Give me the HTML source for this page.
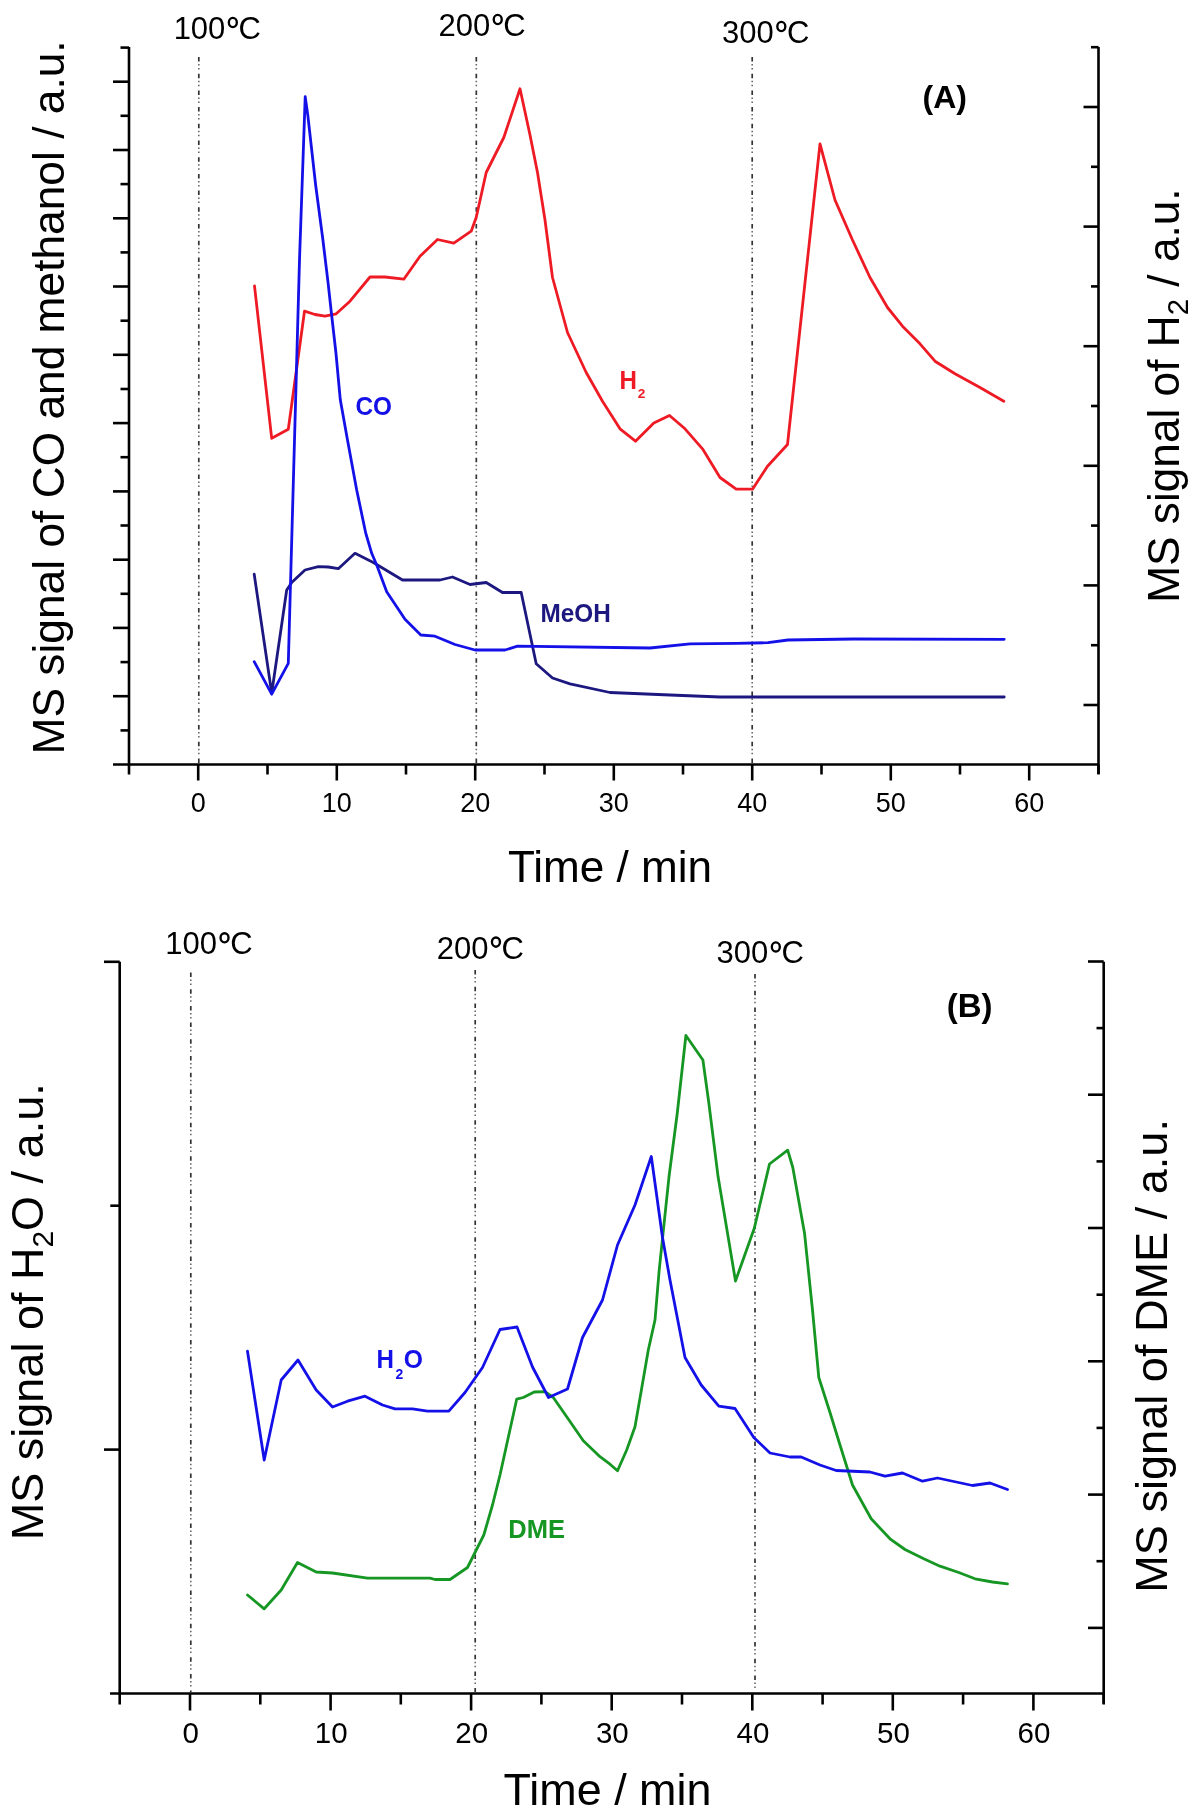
<!DOCTYPE html>
<html><head><meta charset="utf-8"><style>
html,body{margin:0;padding:0;background:#fff;}
svg{display:block;filter:blur(0.45px);}
text{font-family:"Liberation Sans", sans-serif;}
</style></head><body>
<svg width="1199" height="1819" viewBox="0 0 1199 1819" font-family='"Liberation Sans", sans-serif'>
<rect width="1199" height="1819" fill="#fff"/>
<line x1="129.0" y1="47.0" x2="129.0" y2="765.5" stroke="#000" stroke-width="2.6"/>
<line x1="1098.5" y1="47.0" x2="1098.5" y2="774.0" stroke="#000" stroke-width="2.6"/>
<line x1="113.0" y1="764.5" x2="1098.5" y2="764.5" stroke="#000" stroke-width="2.6"/>
<line x1="120.5" y1="730.4" x2="129.0" y2="730.4" stroke="#000" stroke-width="2.6"/>
<line x1="113.0" y1="696.2" x2="129.0" y2="696.2" stroke="#000" stroke-width="2.6"/>
<line x1="120.5" y1="662.1" x2="129.0" y2="662.1" stroke="#000" stroke-width="2.6"/>
<line x1="113.0" y1="627.9" x2="129.0" y2="627.9" stroke="#000" stroke-width="2.6"/>
<line x1="120.5" y1="593.8" x2="129.0" y2="593.8" stroke="#000" stroke-width="2.6"/>
<line x1="113.0" y1="559.7" x2="129.0" y2="559.7" stroke="#000" stroke-width="2.6"/>
<line x1="120.5" y1="525.5" x2="129.0" y2="525.5" stroke="#000" stroke-width="2.6"/>
<line x1="113.0" y1="491.4" x2="129.0" y2="491.4" stroke="#000" stroke-width="2.6"/>
<line x1="120.5" y1="457.2" x2="129.0" y2="457.2" stroke="#000" stroke-width="2.6"/>
<line x1="113.0" y1="423.1" x2="129.0" y2="423.1" stroke="#000" stroke-width="2.6"/>
<line x1="120.5" y1="389.0" x2="129.0" y2="389.0" stroke="#000" stroke-width="2.6"/>
<line x1="113.0" y1="354.8" x2="129.0" y2="354.8" stroke="#000" stroke-width="2.6"/>
<line x1="120.5" y1="320.7" x2="129.0" y2="320.7" stroke="#000" stroke-width="2.6"/>
<line x1="113.0" y1="286.5" x2="129.0" y2="286.5" stroke="#000" stroke-width="2.6"/>
<line x1="120.5" y1="252.4" x2="129.0" y2="252.4" stroke="#000" stroke-width="2.6"/>
<line x1="113.0" y1="218.3" x2="129.0" y2="218.3" stroke="#000" stroke-width="2.6"/>
<line x1="120.5" y1="184.1" x2="129.0" y2="184.1" stroke="#000" stroke-width="2.6"/>
<line x1="113.0" y1="150.0" x2="129.0" y2="150.0" stroke="#000" stroke-width="2.6"/>
<line x1="120.5" y1="115.8" x2="129.0" y2="115.8" stroke="#000" stroke-width="2.6"/>
<line x1="113.0" y1="81.7" x2="129.0" y2="81.7" stroke="#000" stroke-width="2.6"/>
<line x1="120.5" y1="47.6" x2="129.0" y2="47.6" stroke="#000" stroke-width="2.6"/>
<line x1="1098.5" y1="705.0" x2="1083.5" y2="705.0" stroke="#000" stroke-width="2.6"/>
<line x1="1098.5" y1="645.2" x2="1091.0" y2="645.2" stroke="#000" stroke-width="2.6"/>
<line x1="1098.5" y1="585.4" x2="1083.5" y2="585.4" stroke="#000" stroke-width="2.6"/>
<line x1="1098.5" y1="525.6" x2="1091.0" y2="525.6" stroke="#000" stroke-width="2.6"/>
<line x1="1098.5" y1="465.8" x2="1083.5" y2="465.8" stroke="#000" stroke-width="2.6"/>
<line x1="1098.5" y1="406.0" x2="1091.0" y2="406.0" stroke="#000" stroke-width="2.6"/>
<line x1="1098.5" y1="346.2" x2="1083.5" y2="346.2" stroke="#000" stroke-width="2.6"/>
<line x1="1098.5" y1="286.4" x2="1091.0" y2="286.4" stroke="#000" stroke-width="2.6"/>
<line x1="1098.5" y1="226.6" x2="1083.5" y2="226.6" stroke="#000" stroke-width="2.6"/>
<line x1="1098.5" y1="166.8" x2="1091.0" y2="166.8" stroke="#000" stroke-width="2.6"/>
<line x1="1098.5" y1="107.0" x2="1083.5" y2="107.0" stroke="#000" stroke-width="2.6"/>
<line x1="1098.5" y1="47.2" x2="1091.0" y2="47.2" stroke="#000" stroke-width="2.6"/>
<line x1="129.0" y1="764.5" x2="129.0" y2="774.5" stroke="#000" stroke-width="2.6"/>
<line x1="198.2" y1="764.5" x2="198.2" y2="780.5" stroke="#000" stroke-width="2.6"/>
<text x="198.2" y="812.3" font-size="27" text-anchor="middle" font-weight="normal" fill="#000" >0</text>
<line x1="267.5" y1="764.5" x2="267.5" y2="774.5" stroke="#000" stroke-width="2.6"/>
<line x1="336.8" y1="764.5" x2="336.8" y2="780.5" stroke="#000" stroke-width="2.6"/>
<text x="336.8" y="812.3" font-size="27" text-anchor="middle" font-weight="normal" fill="#000" >10</text>
<line x1="406.0" y1="764.5" x2="406.0" y2="774.5" stroke="#000" stroke-width="2.6"/>
<line x1="475.2" y1="764.5" x2="475.2" y2="780.5" stroke="#000" stroke-width="2.6"/>
<text x="475.2" y="812.3" font-size="27" text-anchor="middle" font-weight="normal" fill="#000" >20</text>
<line x1="544.5" y1="764.5" x2="544.5" y2="774.5" stroke="#000" stroke-width="2.6"/>
<line x1="613.8" y1="764.5" x2="613.8" y2="780.5" stroke="#000" stroke-width="2.6"/>
<text x="613.8" y="812.3" font-size="27" text-anchor="middle" font-weight="normal" fill="#000" >30</text>
<line x1="683.0" y1="764.5" x2="683.0" y2="774.5" stroke="#000" stroke-width="2.6"/>
<line x1="752.2" y1="764.5" x2="752.2" y2="780.5" stroke="#000" stroke-width="2.6"/>
<text x="752.2" y="812.3" font-size="27" text-anchor="middle" font-weight="normal" fill="#000" >40</text>
<line x1="821.5" y1="764.5" x2="821.5" y2="774.5" stroke="#000" stroke-width="2.6"/>
<line x1="890.8" y1="764.5" x2="890.8" y2="780.5" stroke="#000" stroke-width="2.6"/>
<text x="890.8" y="812.3" font-size="27" text-anchor="middle" font-weight="normal" fill="#000" >50</text>
<line x1="960.0" y1="764.5" x2="960.0" y2="774.5" stroke="#000" stroke-width="2.6"/>
<line x1="1029.2" y1="764.5" x2="1029.2" y2="780.5" stroke="#000" stroke-width="2.6"/>
<text x="1029.2" y="812.3" font-size="27" text-anchor="middle" font-weight="normal" fill="#000" >60</text>
<line x1="1098.5" y1="764.5" x2="1098.5" y2="774.5" stroke="#000" stroke-width="2.6"/>
<line x1="198.8" y1="57" x2="198.8" y2="763.5" stroke="#333" stroke-width="1.7" stroke-dasharray="4.5 12.2"/>
<line x1="198.8" y1="57" x2="198.8" y2="763.5" stroke="#6a6a6a" stroke-width="1.6" stroke-dasharray="0 7 1.5 2.5 1.5 4.2" />
<line x1="476.3" y1="57" x2="476.3" y2="763.5" stroke="#333" stroke-width="1.7" stroke-dasharray="4.5 12.2"/>
<line x1="476.3" y1="57" x2="476.3" y2="763.5" stroke="#6a6a6a" stroke-width="1.6" stroke-dasharray="0 7 1.5 2.5 1.5 4.2" />
<line x1="752.2" y1="57" x2="752.2" y2="763.5" stroke="#333" stroke-width="1.7" stroke-dasharray="4.5 12.2"/>
<line x1="752.2" y1="57" x2="752.2" y2="763.5" stroke="#6a6a6a" stroke-width="1.6" stroke-dasharray="0 7 1.5 2.5 1.5 4.2" />
<text x="173.64" y="39.00" font-size="31">100</text>
<ellipse cx="232.84" cy="22.50" rx="4.00" ry="4.60" fill="none" stroke="#000" stroke-width="2.35"/>
<text x="238.44" y="39.00" font-size="31">C</text>
<text x="438.54" y="36.00" font-size="31">200</text>
<ellipse cx="497.74" cy="19.50" rx="4.00" ry="4.60" fill="none" stroke="#000" stroke-width="2.35"/>
<text x="503.34" y="36.00" font-size="31">C</text>
<text x="722.12" y="43.00" font-size="31">300</text>
<ellipse cx="781.32" cy="26.50" rx="4.00" ry="4.60" fill="none" stroke="#000" stroke-width="2.35"/>
<text x="786.92" y="43.00" font-size="31">C</text>
<text x="922.6" y="108.2" font-size="32" text-anchor="start" font-weight="bold" fill="#000" >(A)</text>
<text x="610.0" y="881.6" font-size="44.1" text-anchor="middle" font-weight="normal" fill="#000" >Time / min</text>
<text transform="translate(63.6,754.4) rotate(-90)" font-size="44.3">MS signal of CO and methanol / a.u.</text>
<text transform="translate(1179,602.7) rotate(-90)" font-size="44.2">MS signal of H<tspan font-size="29.5" dy="9">2</tspan><tspan dy="-9"> / a.u.</tspan></text>
<polyline points="254.5,285.8 271.7,438.3 288.3,429.2 304.5,311.2 315.0,314.5 325.0,316.2 336.2,313.8 350.0,301.2 370.0,277.0 385.0,277.0 403.8,279.2 420.0,256.2 437.5,239.5 453.8,243.2 471.2,231.2 476.2,217.5 486.2,172.5 503.8,137.5 520.0,88.8 530.0,135.0 537.5,172.5 545.0,220.0 552.5,277.5 567.5,332.5 586.2,372.5 602.5,401.2 620.0,428.8 635.5,441.2 653.8,423.0 669.5,415.5 685.0,428.8 702.5,448.8 720.0,477.5 736.2,489.2 752.5,489.2 767.5,466.2 787.5,444.5 820.0,143.8 835.0,200.0 852.5,240.0 870.0,277.5 887.5,307.5 902.5,326.2 920.0,343.8 935.0,361.2 955.0,373.8 980.0,387.5 1003.8,401.2" fill="none" stroke="#ee1a24" stroke-width="2.8" stroke-linejoin="round" stroke-linecap="round"/>
<polyline points="254.2,574.2 271.7,693.3 286.7,590.0 291.7,582.5 305.0,570.0 318.3,566.7 328.3,567.0 338.3,568.7 355.0,553.3 373.3,562.5 402.5,580.0 440.0,580.0 452.5,577.0 470.0,584.5 486.2,582.5 502.5,592.5 521.2,592.5 536.2,663.8 552.5,678.0 570.0,683.8 610.0,692.5 670.0,695.0 720.0,697.0 1004.2,697.0" fill="none" stroke="#1c1880" stroke-width="2.8" stroke-linejoin="round" stroke-linecap="round"/>
<polyline points="254.2,661.7 271.7,694.2 288.3,663.3 299.5,260.0 305.2,96.7 307.8,115.2 315.7,185.5 322.7,238.2 328.0,282.2 331.5,313.8 335.9,352.5 340.3,399.8 347.5,440.0 356.7,490.0 365.7,533.0 371.7,553.3 377.0,565.7 386.7,591.7 405.0,619.2 420.8,635.0 435.0,636.2 455.0,644.5 475.0,650.0 505.0,650.0 517.5,646.2 650.0,648.0 690.0,643.8 736.0,643.3 768.0,642.7 788.0,640.0 853.5,639.0 1004.2,639.3" fill="none" stroke="#1410e8" stroke-width="2.8" stroke-linejoin="round" stroke-linecap="round"/>
<text transform="translate(355.50,415.00) scale(0.955,1)" font-size="25.5" text-anchor="start" font-weight="bold" fill="#1410e8" >CO</text>
<text transform="translate(540.40,621.70) scale(0.955,1)" font-size="25.5" text-anchor="start" font-weight="bold" fill="#1c1880" >MeOH</text>
<text transform="translate(619.55,388.50) scale(0.93,1)" font-size="26" text-anchor="start" font-weight="bold" fill="#ee1a24" >H</text>
<text x="637.8" y="398.2" font-size="13.6" text-anchor="start" font-weight="bold" fill="#ee1a24" >2</text>
<line x1="119.7" y1="961.7" x2="119.7" y2="1694.5" stroke="#000" stroke-width="2.6"/>
<line x1="1103.7" y1="961.7" x2="1103.7" y2="1703.5" stroke="#000" stroke-width="2.6"/>
<line x1="110.0" y1="1693.5" x2="1103.7" y2="1693.5" stroke="#000" stroke-width="2.6"/>
<line x1="104.0" y1="1449.6" x2="119.7" y2="1449.6" stroke="#000" stroke-width="2.6"/>
<line x1="110.3" y1="1205.7" x2="119.7" y2="1205.7" stroke="#000" stroke-width="2.6"/>
<line x1="104.0" y1="961.8" x2="119.7" y2="961.8" stroke="#000" stroke-width="2.6"/>
<line x1="1103.7" y1="1627.9" x2="1088.0" y2="1627.9" stroke="#000" stroke-width="2.6"/>
<line x1="1103.7" y1="1561.2" x2="1096.5" y2="1561.2" stroke="#000" stroke-width="2.6"/>
<line x1="1103.7" y1="1494.6" x2="1088.0" y2="1494.6" stroke="#000" stroke-width="2.6"/>
<line x1="1103.7" y1="1427.9" x2="1096.5" y2="1427.9" stroke="#000" stroke-width="2.6"/>
<line x1="1103.7" y1="1361.3" x2="1088.0" y2="1361.3" stroke="#000" stroke-width="2.6"/>
<line x1="1103.7" y1="1294.7" x2="1096.5" y2="1294.7" stroke="#000" stroke-width="2.6"/>
<line x1="1103.7" y1="1228.0" x2="1088.0" y2="1228.0" stroke="#000" stroke-width="2.6"/>
<line x1="1103.7" y1="1161.4" x2="1096.5" y2="1161.4" stroke="#000" stroke-width="2.6"/>
<line x1="1103.7" y1="1094.7" x2="1088.0" y2="1094.7" stroke="#000" stroke-width="2.6"/>
<line x1="1103.7" y1="1028.1" x2="1096.5" y2="1028.1" stroke="#000" stroke-width="2.6"/>
<line x1="1103.7" y1="961.5" x2="1088.0" y2="961.5" stroke="#000" stroke-width="2.6"/>
<line x1="119.7" y1="1693.5" x2="119.7" y2="1704.5" stroke="#000" stroke-width="2.6"/>
<line x1="190.0" y1="1693.5" x2="190.0" y2="1710.5" stroke="#000" stroke-width="2.6"/>
<text x="190.6" y="1742.5" font-size="29.5" text-anchor="middle" font-weight="normal" fill="#000" >0</text>
<line x1="260.3" y1="1693.5" x2="260.3" y2="1704.5" stroke="#000" stroke-width="2.6"/>
<line x1="330.6" y1="1693.5" x2="330.6" y2="1710.5" stroke="#000" stroke-width="2.6"/>
<text x="331.2" y="1742.5" font-size="29.5" text-anchor="middle" font-weight="normal" fill="#000" >10</text>
<line x1="400.8" y1="1693.5" x2="400.8" y2="1704.5" stroke="#000" stroke-width="2.6"/>
<line x1="471.1" y1="1693.5" x2="471.1" y2="1710.5" stroke="#000" stroke-width="2.6"/>
<text x="471.7" y="1742.5" font-size="29.5" text-anchor="middle" font-weight="normal" fill="#000" >20</text>
<line x1="541.4" y1="1693.5" x2="541.4" y2="1704.5" stroke="#000" stroke-width="2.6"/>
<line x1="611.7" y1="1693.5" x2="611.7" y2="1710.5" stroke="#000" stroke-width="2.6"/>
<text x="612.3" y="1742.5" font-size="29.5" text-anchor="middle" font-weight="normal" fill="#000" >30</text>
<line x1="682.0" y1="1693.5" x2="682.0" y2="1704.5" stroke="#000" stroke-width="2.6"/>
<line x1="752.3" y1="1693.5" x2="752.3" y2="1710.5" stroke="#000" stroke-width="2.6"/>
<text x="752.9" y="1742.5" font-size="29.5" text-anchor="middle" font-weight="normal" fill="#000" >40</text>
<line x1="822.6" y1="1693.5" x2="822.6" y2="1704.5" stroke="#000" stroke-width="2.6"/>
<line x1="892.8" y1="1693.5" x2="892.8" y2="1710.5" stroke="#000" stroke-width="2.6"/>
<text x="893.4" y="1742.5" font-size="29.5" text-anchor="middle" font-weight="normal" fill="#000" >50</text>
<line x1="963.1" y1="1693.5" x2="963.1" y2="1704.5" stroke="#000" stroke-width="2.6"/>
<line x1="1033.4" y1="1693.5" x2="1033.4" y2="1710.5" stroke="#000" stroke-width="2.6"/>
<text x="1034.0" y="1742.5" font-size="29.5" text-anchor="middle" font-weight="normal" fill="#000" >60</text>
<line x1="1103.7" y1="1693.5" x2="1103.7" y2="1704.5" stroke="#000" stroke-width="2.6"/>
<line x1="190.8" y1="972.5" x2="190.8" y2="1692.5" stroke="#333" stroke-width="1.7" stroke-dasharray="4.5 12.2"/>
<line x1="190.8" y1="972.5" x2="190.8" y2="1692.5" stroke="#6a6a6a" stroke-width="1.6" stroke-dasharray="0 7 1.5 2.5 1.5 4.2" />
<line x1="475.2" y1="970" x2="475.2" y2="1692.5" stroke="#333" stroke-width="1.7" stroke-dasharray="4.5 12.2"/>
<line x1="475.2" y1="970" x2="475.2" y2="1692.5" stroke="#6a6a6a" stroke-width="1.6" stroke-dasharray="0 7 1.5 2.5 1.5 4.2" />
<line x1="755" y1="974" x2="755" y2="1692.5" stroke="#333" stroke-width="1.7" stroke-dasharray="4.5 12.2"/>
<line x1="755" y1="974" x2="755" y2="1692.5" stroke="#6a6a6a" stroke-width="1.6" stroke-dasharray="0 7 1.5 2.5 1.5 4.2" />
<text x="165.34" y="954.30" font-size="31">100</text>
<ellipse cx="224.54" cy="937.80" rx="4.00" ry="4.60" fill="none" stroke="#000" stroke-width="2.35"/>
<text x="230.14" y="954.30" font-size="31">C</text>
<text x="436.74" y="958.60" font-size="31">200</text>
<ellipse cx="495.94" cy="942.10" rx="4.00" ry="4.60" fill="none" stroke="#000" stroke-width="2.35"/>
<text x="501.54" y="958.60" font-size="31">C</text>
<text x="716.62" y="963.40" font-size="31">300</text>
<ellipse cx="775.82" cy="946.90" rx="4.00" ry="4.60" fill="none" stroke="#000" stroke-width="2.35"/>
<text x="781.42" y="963.40" font-size="31">C</text>
<text x="946.7" y="1016.8" font-size="33" text-anchor="start" font-weight="bold" fill="#000" >(B)</text>
<text x="607.5" y="1805.0" font-size="44.9" text-anchor="middle" font-weight="normal" fill="#000" >Time / min</text>
<text transform="translate(43.2,1540.2) rotate(-90)" font-size="45">MS signal of H<tspan font-size="30" dy="10">2</tspan><tspan dy="-10">O / a.u.</tspan></text>
<text transform="translate(1166.8,1592.7) rotate(-90)" font-size="45.1">MS signal of DME / a.u.</text>
<polyline points="247.5,1595.0 264.2,1608.8 281.2,1590.0 297.5,1562.5 316.2,1572.0 332.5,1573.0 367.5,1578.2 430.0,1578.2 435.0,1579.5 450.0,1579.5 467.5,1567.5 483.8,1535.0 492.5,1505.0 500.0,1475.0 516.7,1399.2 523.3,1397.5 534.2,1392.0 545.0,1391.7 553.3,1397.5 566.7,1416.7 583.3,1440.8 600.0,1456.7 610.0,1464.2 617.5,1470.8 626.7,1450.0 635.0,1426.7 641.7,1388.3 648.3,1350.0 655.0,1320.0 659.2,1270.0 669.0,1176.8 677.2,1113.8 685.9,1035.5 702.9,1060.0 708.7,1102.0 718.1,1176.8 735.5,1281.0 754.3,1228.2 769.5,1164.0 787.7,1150.2 792.8,1167.5 804.5,1232.9 812.5,1310.0 818.8,1377.5 830.0,1412.5 840.0,1445.0 852.5,1485.0 871.2,1518.8 890.0,1538.8 905.0,1549.5 923.8,1558.8 940.0,1566.2 958.8,1572.5 975.0,1578.8 992.5,1582.0 1007.5,1583.8" fill="none" stroke="#169622" stroke-width="2.8" stroke-linejoin="round" stroke-linecap="round"/>
<polyline points="247.5,1351.2 264.2,1460.0 281.2,1380.0 298.0,1360.0 316.2,1390.0 332.5,1407.0 347.5,1401.2 365.0,1396.2 382.5,1405.0 395.0,1408.8 412.5,1408.8 427.5,1411.2 448.8,1411.2 465.0,1392.5 482.5,1367.5 500.0,1329.5 517.0,1327.0 532.5,1367.0 548.5,1397.5 567.5,1389.0 582.5,1337.5 602.5,1300.0 617.5,1245.0 635.0,1205.0 651.3,1156.5 662.5,1237.5 670.0,1280.0 685.0,1357.5 701.2,1385.0 718.8,1406.2 735.0,1408.5 753.8,1437.5 770.0,1453.0 790.0,1457.0 801.2,1457.0 820.0,1465.0 836.2,1470.5 870.0,1472.0 885.0,1476.2 902.5,1473.0 922.5,1481.2 937.5,1478.0 972.5,1485.5 990.0,1483.0 1007.5,1489.5" fill="none" stroke="#1410e8" stroke-width="2.8" stroke-linejoin="round" stroke-linecap="round"/>
<text transform="translate(376.50,1368.00) scale(0.93,1)" font-size="26" text-anchor="start" font-weight="bold" fill="#1410e8" >H</text>
<text x="395.4" y="1379.0" font-size="14" text-anchor="start" font-weight="bold" fill="#1410e8" >2</text>
<text transform="translate(403.70,1368.20) scale(0.95,1)" font-size="26" text-anchor="start" font-weight="bold" fill="#1410e8" >O</text>
<text transform="translate(508.30,1537.50) scale(0.975,1)" font-size="26.2" text-anchor="start" font-weight="bold" fill="#169622" >DME</text>
</svg>
</body></html>
